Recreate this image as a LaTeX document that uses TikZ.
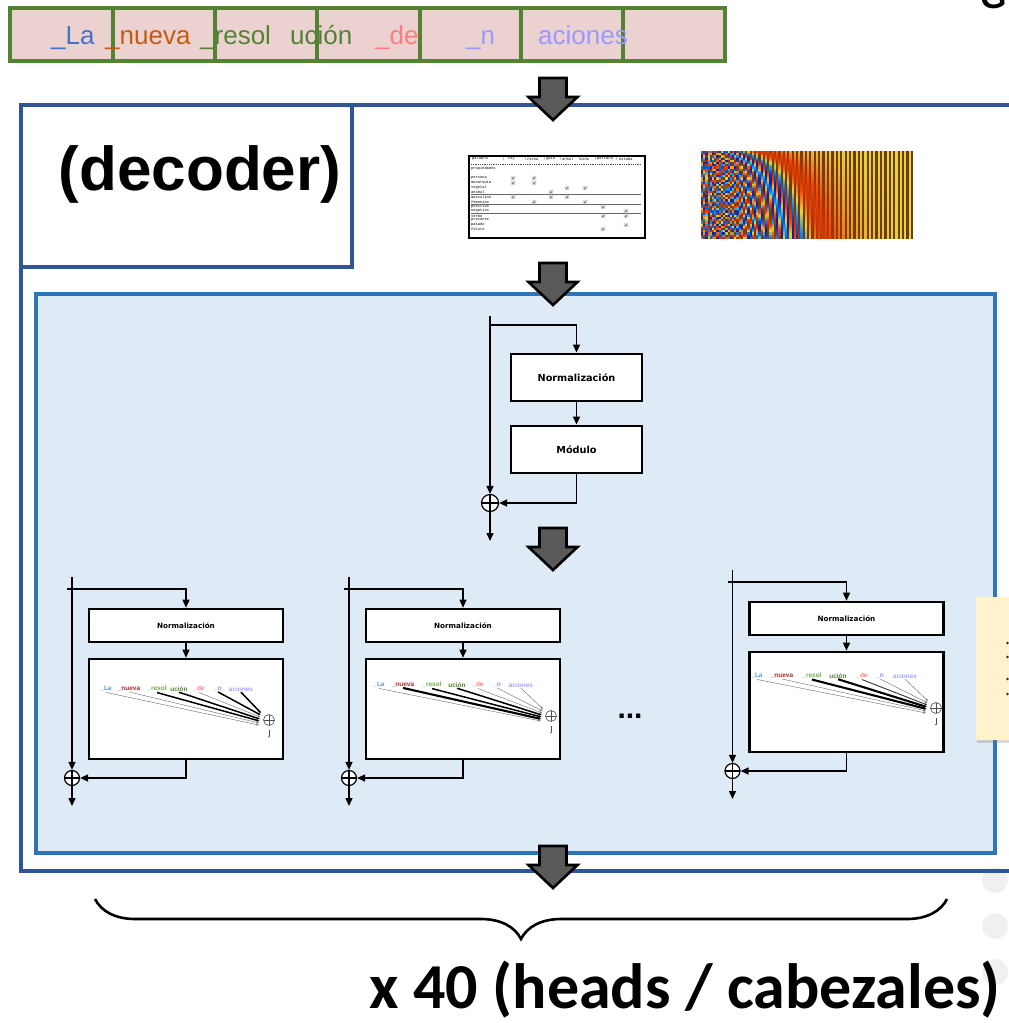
\documentclass[tikz,border=0pt]{standalone}
\usepackage{fontspec}
\setmainfont{Liberation Sans}
\setmonofont{Liberation Mono}
\newfontfamily\dvsans{DejaVu Sans}
\newfontfamily\calib{Carlito}
\usetikzlibrary{arrows.meta,decorations.pathreplacing,shadows,calc}

% palette
\definecolor{tokpink}{HTML}{EBD2D1}
\definecolor{tokgreen}{HTML}{548235}
\definecolor{decblue}{HTML}{2F5597}
\definecolor{stackfill}{HTML}{DEEBF7}
\definecolor{stackline}{HTML}{2E75B6}
\definecolor{arrgray}{HTML}{595959}
\definecolor{notefill}{HTML}{FFF2CC}
% token colours, top row
\definecolor{wLa}{HTML}{4472C4}
\definecolor{wnueva}{HTML}{C55A11}
\definecolor{wresol}{HTML}{548235}
\definecolor{wde}{HTML}{FF7C80}
\definecolor{wn}{HTML}{9999FF}
% token colours, attention boxes
\definecolor{aLa}{HTML}{5B9BD5}
\definecolor{anueva}{HTML}{A8302E}
\definecolor{aresol}{HTML}{70AD47}
\definecolor{aucion}{HTML}{548235}
\definecolor{ade}{HTML}{FF7C80}
\definecolor{an}{HTML}{8F8FFF}
\definecolor{aaciones}{HTML}{A6A6FF}
% positional-encoding colour map anchors
\definecolor{pe0}{rgb}{0.15,0.10,0.55}
\definecolor{pe1}{rgb}{0.00,0.55,1.00}
\definecolor{pe2}{rgb}{0.88,0.86,0.20}
\definecolor{pe3}{rgb}{1.00,0.25,0.00}
\definecolor{pe4}{rgb}{0.45,0.22,0.07}

\tikzset{
  flow/.style={line width=1.4, -{Triangle[length=8pt,width=7pt]}},
  layerbox/.style={draw, line width=2.8, fill=white, inner sep=0,
    font=\dvsans\bfseries\fontsize{9.7}{10}\selectfont},
  smallbox/.style={draw, line width=2.6, fill=white, inner sep=0,
    font=\dvsans\bfseries\fontsize{7.2}{8}\selectfont},
  sumnode/.style={circle, draw, fill=white, line width=1.2, minimum size=#1, inner sep=0,
    path picture={\draw[line width=1.2] (path picture bounding box.north) -- (path picture bounding box.south)
      (path picture bounding box.west) -- (path picture bounding box.east);}},
  minisum/.style={circle, draw=black!70, fill=white, line width=0.6, minimum size=11, inner sep=0,
    path picture={\draw[black!70, line width=0.6] (path picture bounding box.north) -- (path picture bounding box.south)
      (path picture bounding box.west) -- (path picture bounding box.east);}},
  tk/.style={font=\bfseries\fontsize{6.5}{6.5}\selectfont, inner sep=0.6},
  toptok/.style={font=\fontsize{26}{26}\selectfont, anchor=base west, inner sep=0},
  fan/.style={-{Stealth[length=2.8pt,width=2.3pt]}},
  thinfan/.style={fan, draw=black!55, line width=0.45},
  midfan/.style={fan, draw=black!80, line width=0.9},
  thickfan/.style={fan, draw=black, line width=1.5},
  heavyfan/.style={fan, draw=black, line width=2.1},
  cell/.style={draw=tokgreen, fill=tokpink, line width=4},
  tabtxt/.style={font=\ttfamily\fontsize{3.7}{3.7}\selectfont, inner sep=0, anchor=west},
  bigdown/.pic={\filldraw[fill=arrgray, draw=black, line width=2.6, line join=miter]
    (-13.5,1) -- (13.5,1) -- (13.5,20) -- (24.5,20) -- (0,43) -- (-24.5,20) -- (-13.5,20) -- cycle;}
}

% one head: residual path, normalisation, attention box and sum
\newcommand\headblock[3]{%
  \begin{scope}[shift={(#2,#3)}]
    \coordinate (#1top) at (72,577);
    \coordinate (#1br) at (67,589);
    \node[smallbox, minimum width=194, minimum height=33] (#1norm) at (186,625.5) {Normalización};
    \node[smallbox, minimum width=194, minimum height=100] (#1att) at (186,709) {};
    \node[sumnode=15] (#1sum) at (72,778) {};
    \coordinate (#1out) at (72,806);
    \draw[flow] (#1top) -- (#1sum.north);
    \draw[flow] (#1br) -| (#1norm.north);
    \draw[flow] (#1norm.south) -- (#1att.north);
    \draw[flow] (#1att.south) |- (#1sum.east);
    \draw[flow] (#1sum.south) -- (#1out);
  \end{scope}}

% token row inside an attention box
\newcommand\tokrow[9]{%
  \node[tk,text=aLa] (#1t1) at (#3,#2) {\_La};
  \node[tk,text=anueva] (#1t2) at (#4,#2) {\_nueva};
  \node[tk,text=aresol] (#1t3) at (#5,#2) {\_resol};
  \node[tk,text=aucion] (#1t4) at (#6,#2) {ución};
  \node[tk,text=ade] (#1t5) at (#7,#2) {\_de};
  \node[tk,text=an] (#1t6) at (#8,#2) {\_n};
  \node[tk,text=aaciones] (#1t7) at (#9,#2) {aciones};}

% mini sum node with fan end points and short output arrow
\newcommand\minisum[3]{%
  \node[minisum] (#1s) at (#2,#3) {};
  \foreach \k in {1,...,7}{\coordinate (#1e\k) at ($(#1s)+({-10.5+0.35*\k},{7-2*\k})$);}
  \coordinate (#1u) at ($(#1s)+(0,9.5)$);
  \coordinate (#1d) at ($(#1s)+(0,18)$);
  \draw[black!70, line width=0.5, -{Latex[length=2pt,width=1.6pt]}] (#1u) -- (#1d);}

\begin{document}
\begin{tikzpicture}[x=1pt,y=-1pt]
\path[use as bounding box, clip] (0,0) rectangle (1009,1023);
\fill[white] (0,0) rectangle (1009,1023);

% faded bullets at the right margin
\foreach \yy in {880,926,972}{\fill[black!6] (995,\yy) circle (13);}

% heading fragment at the top right
\node[anchor=base west, font=\bfseries\fontsize{34}{34}\selectfont, inner sep=0] (gfrag) at (980,8) {G};

% ---------------- decoder frame ----------------
\draw[decblue, line width=4] (21,105) rectangle (1040,871);
\node[draw=decblue, line width=4, fill=white, minimum width=331, minimum height=162, inner sep=0] (declabel) at (186.5,186) {};
\node[font=\bfseries\fontsize{62}{62}\selectfont, inner sep=0] (dectext) at (200,174) {(decoder)};

% ---------------- token row ----------------
\foreach \a/\b in {10/113,113/215,215/317,317/420,420/521,521/623,623/725}{
  \draw[cell] (\a,8) rectangle (\b,61);}
\node[toptok, text=wLa] (w1) at (51,44) {\_La};
\node[toptok, text=wnueva] (w2) at (105,44) {\_nueva};
\node[toptok, text=wresol] (w3) at (200,44) {\_resol};
\node[toptok, text=wresol] (w4) at (290,44) {ución};
\node[toptok, text=wde] (w5) at (375,44) {\_de};
\node[toptok, text=wn] (w6) at (466,44) {\_n};
\node[toptok, text=wn] (w7) at (538,44) {aciones};

% ---------------- embedding table ----------------
\node[draw, line width=2.4, minimum width=176, minimum height=82, inner sep=0, fill=white] (tbl) at (557,197) {};
\node[tabtxt] (h0) at (472,159) {palabra};
\foreach \sx in {502,524,543,559,578,594,615}{\node[tabtxt] at (\sx,159) {|};}
\node[tabtxt] (h1) at (508,159) {rey};
\node[tabtxt] (h2) at (527,159) {reina};
\node[tabtxt] (h3) at (546,159) {gato};
\node[tabtxt] (h4) at (562,159) {arbol};
\node[tabtxt] (h5) at (580,159) {niño};
\node[tabtxt] (h6) at (597,159) {portará};
\node[tabtxt] (h7) at (619,159) {estaba};
\draw[black!70, line width=0.4, dash pattern=on 1pt off 0.8pt] (471,164) -- (641,164);
\node[tabtxt] at (471,169) {propiedades};
\foreach \lab/\ly in {persona/178,monarquia/183,vegetal/188,animal/192,masculino/197,femenino/202,
  positivo/207,negativo/211,verbo/216,presente/220,pasado/225,futuro/229}{
  \node[tabtxt] at (471,\ly) {\lab};}
\foreach \ly in {194.5,204.5,213.5}{\draw[black!60, line width=0.7] (471,\ly) -- (641,\ly);}
\foreach \cx/\cy in {513/178,534/178,513/183,534/183,567/188,585/188,551/192,513/197,551/197,567/197,
  534/202,585/202,603/207,626/211,603/216,626/216,626/225,603/229}{
  \fill[black!14, rounded corners=0.6] (\cx-2.4,\cy-2.2) rectangle (\cx+2.4,\cy+2.2);
  \draw[black!75, line width=0.35] (\cx-1.2,\cy) -- (\cx-0.3,\cy+1) -- (\cx+1.3,\cy-1.2);}

% ---------------- positional encoding ----------------
\begin{scope}[shift={(701,151)}]
  \clip (0,0) rectangle (212,88);
  \foreach \j in {0,...,95}{
    \pgfmathsetmacro\pew{exp(-0.1919*floor(\j/2))}
    \foreach \r in {0,...,39}{
      \pgfmathsetmacro\pea{(10+3.6*\r)*\pew}
      \pgfmathsetmacro\pev{mod(\j,2)==0 ? sin(\pea r) : cos(\pea r)}
      \pgfmathsetmacro\pet{2*(\pev+1)}
      \pgfmathtruncatemacro\pes{min(3,floor(\pet))}
      \pgfmathtruncatemacro\pef{max(0,min(100,100*(\pet-\pes)))}
      \ifcase\pes \colorlet{pec}{pe1!\pef!pe0}\or \colorlet{pec}{pe2!\pef!pe1}\or
        \colorlet{pec}{pe3!\pef!pe2}\or \colorlet{pec}{pe4!\pef!pe3}\fi
      \fill[pec] (\j*2.2084,\r*2.2) rectangle ++(2.5,2.5);
    }
  }
\end{scope}

% ---------------- decoder stack ----------------
\draw[stackline, fill=stackfill, line width=4] (36,294) rectangle (995,853);

% note card at the right edge
\fill[notefill, drop shadow={shadow xshift=1pt, shadow yshift=-3pt, opacity=0.3}] (976,597) rectangle (1040,740);
\foreach \yy in {643,657,679,694}{\fill[black!85] (1007.5,\yy) circle (1.4);}

% feed-forward sub-layer
\coordinate (top0) at (490,316);
\coordinate (br0) at (490,325);
\node[layerbox, minimum width=131, minimum height=47] (norm0) at (576.5,377.5) {Normalización};
\node[layerbox, minimum width=131, minimum height=47] (mod0) at (576.5,449.5) {Módulo};
\node[sumnode=17] (sum0) at (490,503) {};
\coordinate (out0) at (490,541);
\draw[flow] (top0) -- (sum0.north);
\draw[flow] (br0) -| (norm0.north);
\draw[flow] (norm0.south) -- (mod0.north);
\draw[flow] (mod0.south) |- (sum0.east);
\draw[flow] (sum0.south) -- (out0);

% attention heads
\headblock{ha}{0}{0}
\headblock{hb}{277}{0}
\headblock{hc}{660.5}{-7}

\tokrow{ha}{689}{106}{129}{157}{179}{199}{218}{241}
\minisum{ha}{269}{720}
\draw[thinfan] (hat1.south) -- (hae1);
\draw[thinfan] (hat2.south) -- (hae2);
\draw[thickfan] (hat3.south) -- (hae3);
\draw[thickfan] (hat4.south) -- (hae4);
\draw[thinfan] (hat5.south) -- (hae5);
\draw[thickfan] (hat6.south) -- (hae6);
\draw[thickfan] (hat7.south) -- (hae7);

\tokrow{hb}{685}{379}{403}{432}{457}{478}{497}{521}
\minisum{hb}{551}{716}
\draw[thinfan] (hbt1.south) -- (hbe1);
\draw[heavyfan] (hbt2.south) -- (hbe2);
\draw[thickfan] (hbt3.south) -- (hbe3);
\draw[thickfan] (hbt4.south) -- (hbe4);
\draw[thinfan] (hbt5.south) -- (hbe5);
\draw[thinfan] (hbt6.south) -- (hbe6);
\draw[thinfan] (hbt7.south) -- (hbe7);

\tokrow{hc}{676}{757}{782}{812}{838}{862}{880}{905}
\minisum{hc}{936}{708}
\draw[thinfan] (hct1.south) -- (hce1);
\draw[thinfan] (hct2.south) -- (hce2);
\draw[heavyfan] (hct3.south) -- (hce3);
\draw[heavyfan] (hct4.south) -- (hce4);
\draw[midfan] (hct5.south) -- (hce5);
\draw[thinfan] (hct6.south) -- (hce6);
\draw[thinfan] (hct7.south) -- (hce7);

\node[font=\bfseries\fontsize{30}{30}\selectfont, inner sep=0] (more) at (630,716) {...};

% flow arrows between stages
\pic at (553,77) {bigdown};
\pic at (553,262) {bigdown};
\pic at (553,527) {bigdown};
\pic at (553,845) {bigdown};

% ---------------- repetition brace ----------------
\coordinate (brl) at (95,899);
\coordinate (brr) at (947,899);
\draw[decorate, decoration={brace, amplitude=40pt, mirror}, line width=2.6] (brl) -- (brr);
\node[anchor=base east, font=\calib\bfseries\fontsize{64}{64}\selectfont, inner sep=0] (reps) at (1001,1008) {x 40 (heads / cabezales)};
\end{tikzpicture}
\end{document}
